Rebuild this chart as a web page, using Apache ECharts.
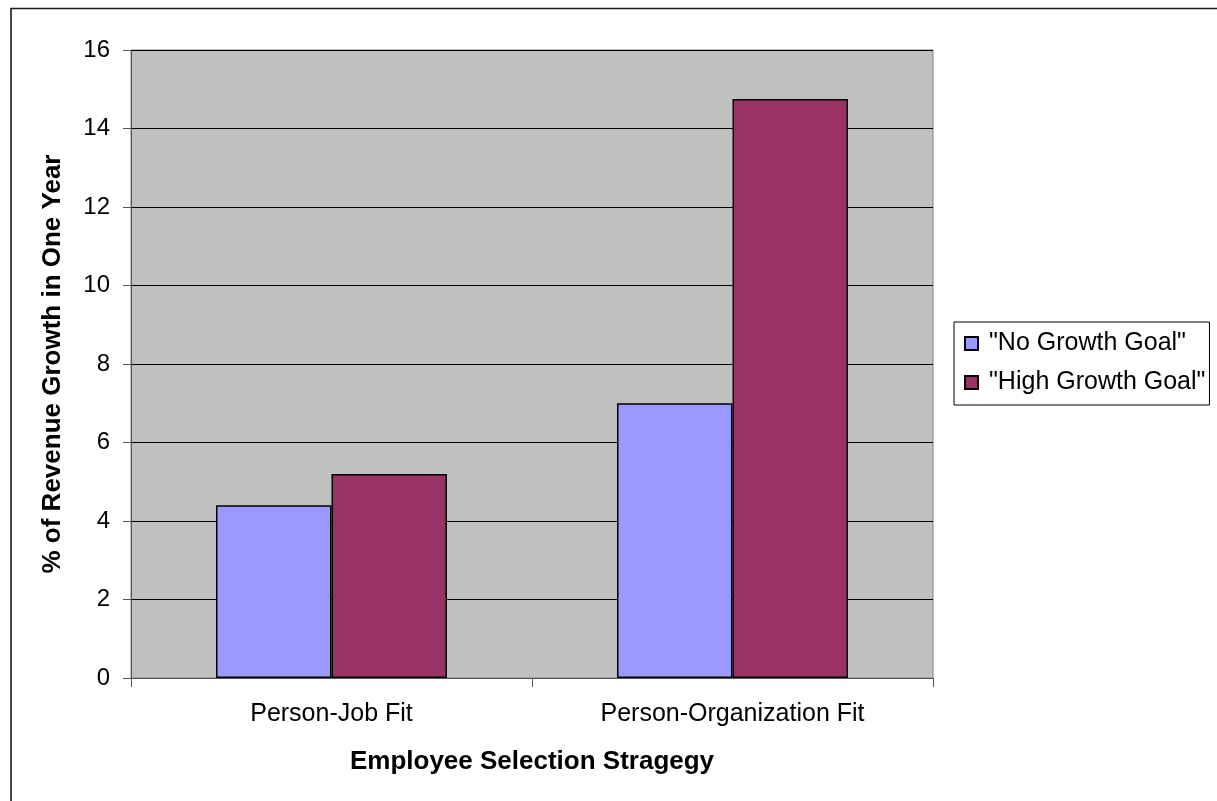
<!DOCTYPE html>
<html>
<head>
<meta charset="utf-8">
<script src="https://cdn.jsdelivr.net/npm/echarts@6/dist/echarts.min.js"></script>
<style>
html,body{margin:0;padding:0;background:#fff;}
#chart{width:1217px;height:801px;}
</style>
</head>
<body>
<div id="chart"></div>
<script>
var categories = ['Person-Job Fit', 'Person-Organization Fit'];
var seriesNames = ['"No Growth Goal"', '"High Growth Goal"'];
var noGrowthValues = [4.4, 7.0];
var highGrowthValues = [5.2, 14.75];
var yTicks = [0, 2, 4, 6, 8, 10, 12, 14, 16];

var FONT = '"Liberation Sans", Arial, sans-serif';
var chart = echarts.init(document.getElementById('chart'), null, {renderer: 'canvas'});
chart.setOption({
  animation: false,
  backgroundColor: '#ffffff',
  textStyle: {fontFamily: FONT, color: '#000'},
  graphic: [{
    type: 'rect',
    shape: {x: 11, y: 8.5, width: 1300, height: 900},
    style: {fill: 'none', stroke: '#1a1a1a', lineWidth: 1.6},
    silent: true,
    z: -10
  }],
  grid: {
    left: 131, top: 50, right: 284, bottom: 123,
    show: true, backgroundColor: '#C0C0C0', borderColor: '#808080', borderWidth: 1
  },
  legend: {
    orient: 'vertical',
    left: 954, top: 322,
    padding: [9, 4, 10, 10],
    itemWidth: 13, itemHeight: 13, itemGap: 14,
    borderColor: '#000', borderWidth: 1, backgroundColor: '#fff',
    icon: 'rect',
    textStyle: {fontFamily: FONT, fontSize: 25, color: '#000', padding: [0, 0, 0, 6]},
    data: seriesNames
  },
  xAxis: {
    type: 'category',
    data: categories,
    name: 'Employee Selection Stragegy',
    nameLocation: 'middle',
    nameGap: 71,
    nameTextStyle: {fontFamily: FONT, fontSize: 26, fontWeight: 'bold', color: '#000'},
    axisLine: {show: true, lineStyle: {color: '#555', width: 1}},
    axisTick: {show: true, length: 9, inside: false, alignWithLabel: false, lineStyle: {color: '#555'}},
    axisLabel: {fontFamily: FONT, fontSize: 25, color: '#000', margin: 24},
    splitLine: {show: false}
  },
  yAxis: {
    type: 'value',
    min: yTicks[0], max: yTicks[yTicks.length - 1], interval: 2,
    name: '% of Revenue Growth in One Year',
    nameLocation: 'middle',
    nameGap: 65,
    nameRotate: 90,
    nameTextStyle: {fontFamily: FONT, fontSize: 26, fontWeight: 'bold', color: '#000'},
    axisLine: {show: true, lineStyle: {color: '#555', width: 1}},
    axisTick: {show: true, length: 8, inside: false, lineStyle: {color: '#555'}},
    axisLabel: {fontFamily: FONT, fontSize: 24, color: '#000', margin: 21},
    splitLine: {show: true, lineStyle: {color: '#000', width: 1}}
  },
  series: [
    {
      name: seriesNames[0], type: 'bar', data: noGrowthValues,
      barGap: '0%', barCategoryGap: '42.4%',
      itemStyle: {color: '#9999FF', borderColor: '#000', borderWidth: 1.5}
    },
    {
      name: seriesNames[1], type: 'bar', data: highGrowthValues,
      barGap: '0%', barCategoryGap: '42.4%',
      itemStyle: {color: '#993366', borderColor: '#000', borderWidth: 1.5}
    }
  ]
});
</script>
</body>
</html>
